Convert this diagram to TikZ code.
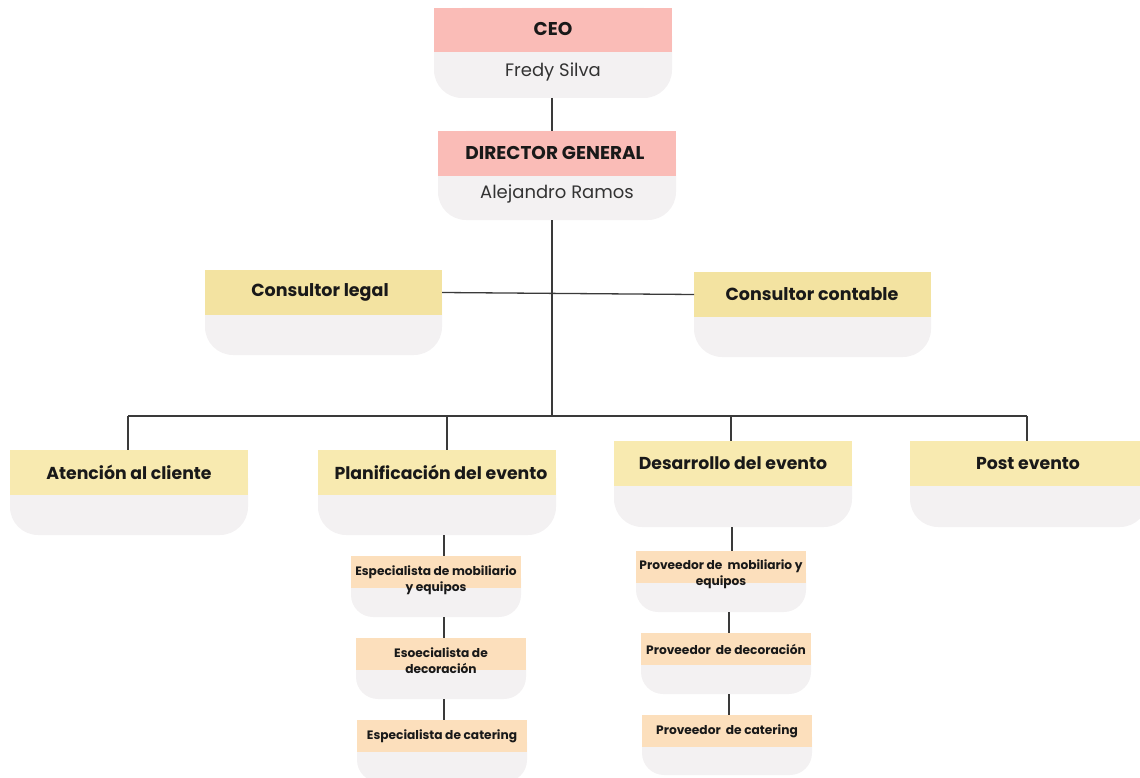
\documentclass[tikz,border=0pt]{standalone}
\usepackage{fontspec}
\setmainfont{Poppins}

\definecolor{bodygray}{HTML}{F3F1F2}
\definecolor{headpink}{HTML}{FABCB7}
\definecolor{headyellow}{HTML}{F8EAB0}
\definecolor{consyellow}{HTML}{F3E3A1}
\definecolor{headpeach}{HTML}{FCDFBC}
\definecolor{linkgray}{HTML}{3A3A3A}

% one unit: rounded grey body with a coloured header band on top
% #1 name, #2 left, #3 top, #4 right, #5 header bottom, #6 body bottom, #7 header colour, #8 radius
\newcommand\orgunit[8]{%
  \node[unitbody, rounded corners=#8, minimum width={#4-#2}, minimum height={#6-#3}] (#1) at (#2,#3) {};
  \node[unithead, fill=#7, minimum width={#4-#2}, minimum height={#5-#3}] (#1-h) at (#1.north west) {};
}

\begin{document}
\begin{tikzpicture}[x=1pt,y=-1pt,
  unitbody/.style={fill=bodygray, draw=none, inner sep=0pt, outer sep=0pt, anchor=north west},
  unithead/.style={draw=none, inner sep=0pt, outer sep=0pt, anchor=north west},
  link/.style={draw=linkgray, line width=1.3pt},
  toptitle/.style={font=\bfseries\fontsize{18.5}{20}\selectfont, text=black!90},
  topname/.style={font=\fontsize{18}{20}\selectfont, text=black!80},
  constitle/.style={font=\bfseries\fontsize{17.5}{20}\selectfont, text=black!90},
  areatitle/.style={font=\bfseries\fontsize{17.3}{20}\selectfont, text=black!90},
  subtitle/.style={font=\bfseries\fontsize{12.2}{16}\selectfont, text=black!90, align=center},
]
\useasboundingbox (0,0) rectangle (1140,778);

% top management
\orgunit{ceo}{434}{8}{672}{52}{98}{headpink}{28}
\orgunit{dir}{438}{131}{676}{176}{220}{headpink}{28}
\node[toptitle] (ceo-t) at (553,29) {CEO};
\node[topname] (ceo-n) at (553,72) {Fredy Silva};
\node[toptitle] (dir-t) at (555,153) {DIRECTOR GENERAL};
\node[topname] (dir-n) at (557,194) {Alejandro Ramos};

% advisors
\orgunit{legal}{205}{270}{442}{315}{355}{consyellow}{28}
\orgunit{cont}{694}{272}{931}{317}{357}{consyellow}{28}
\node[constitle] (legal-t) at (320,292) {Consultor legal};
\node[constitle] (cont-t) at (812,294) {Consultor contable};

% areas
\orgunit{atn}{10}{450}{248}{495}{535}{headyellow}{28}
\orgunit{plan}{318}{450}{556}{495}{535}{headyellow}{28}
\orgunit{des}{614}{441}{852}{486}{527}{headyellow}{28}
\orgunit{post}{910}{441}{1148}{486}{527}{headyellow}{28}
\node[areatitle] (atn-t) at (129,472) {Atención al cliente};
\node[areatitle] (plan-t) at (441,472) {Planificación del evento};
\node[areatitle] (des-t) at (733,463) {Desarrollo del evento};
\node[areatitle] (post-t) at (1028,463) {Post evento};

% planning specialists
\orgunit{esp1}{351}{556}{521}{588}{617}{headpeach}{22}
\orgunit{esp2}{356}{638}{526}{670}{699}{headpeach}{22}
\orgunit{esp3}{357}{720}{527}{752}{782}{headpeach}{22}
\node[subtitle] (esp1-t) at (436,580) {Especialista de mobiliario\\y equipos};
\node[subtitle] (esp2-t) at (441,661) {Esoecialista de\\decoración};
\node[subtitle] (esp3-t) at (442,736) {Especialista de catering};

% suppliers
\orgunit{prov1}{636}{551}{806}{583}{612}{headpeach}{22}
\orgunit{prov2}{641}{633}{811}{665}{694}{headpeach}{22}
\orgunit{prov3}{642}{715}{812}{747}{775}{headpeach}{22}
\node[subtitle] (prov1-t) at (721,574) {Proveedor de\ \ mobiliario y\\equipos};
\node[subtitle] (prov2-t) at (726,649) {Proveedor\ \ de decoración};
\node[subtitle] (prov3-t) at (727,731) {Proveedor\ \ de catering};

% connectors
\coordinate (spine) at (552,0);
\coordinate (busL) at (128,416);
\coordinate (busP) at (447,416);
\coordinate (busD) at (731,416);
\coordinate (busR) at (1027,416);
\coordinate (chainP) at (444,0);
\coordinate (chainD1) at (732,0);
\coordinate (chainD2) at (729,0);

\draw[link] (ceo.south -| spine) -- (dir.north -| spine);
\draw[link] (dir.south -| spine) -- (busL -| spine);
\draw[link] (legal-h.east) -- (cont-h.west);
\draw[link] (busL) -- (busR);
\draw[link] (busL) -- (atn.north -| busL);
\draw[link] (busP) -- (plan.north -| busP);
\draw[link] (busD) -- (des.north -| busD);
\draw[link] (busR) -- (post.north -| busR);

\draw[link] (plan.south -| chainP) -- (esp1.north -| chainP);
\draw[link] (esp1.south -| chainP) -- (esp2.north -| chainP);
\draw[link] (esp2.south -| chainP) -- (esp3.north -| chainP);
\draw[link] (des.south -| chainD1) -- (prov1.north -| chainD1);
\draw[link] (prov1.south -| chainD2) -- (prov2.north -| chainD2);
\draw[link] (prov2.south -| chainD2) -- (prov3.north -| chainD2);
\end{tikzpicture}
\end{document}
